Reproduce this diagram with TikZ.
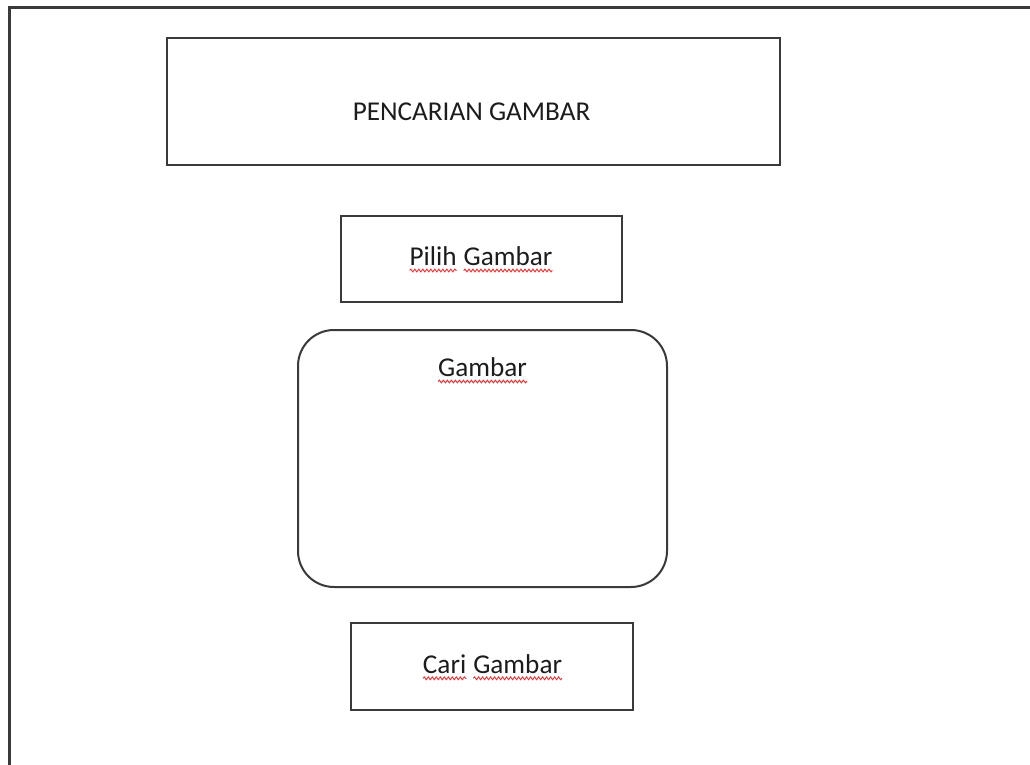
\documentclass[tikz,border=0pt]{standalone}
\usepackage{fontspec}
\setmainfont{Carlito}
\usetikzlibrary{decorations.pathmorphing}
\definecolor{edge}{HTML}{3A3A3A}
\definecolor{ink}{HTML}{1C1C1C}
\definecolor{spell}{HTML}{F03030}
% word with a wavy red underline
\newcommand\wavyword[1]{\tikz[baseline=(ww.base)]{%
  \node[inner sep=0pt,outer sep=0pt,anchor=base] (ww) at (0,0) {#1};
  \draw[spell,line width=0.9pt,decorate,decoration={snake,amplitude=1.4pt,segment length=4pt}]
    ([yshift=-5pt]ww.base west) -- ([yshift=-5pt]ww.base east);}}
\begin{document}
\begin{tikzpicture}[x=1pt,y=-1pt,
  box/.style={draw=edge,line width=2pt,rectangle,inner sep=0pt},
  roundbox/.style={box,rounded corners=36pt},
  txt/.style={text=ink,font=\fontsize{27.2}{32}\selectfont,inner sep=0pt,anchor=base}]
\useasboundingbox (0,0) rectangle (1030,765);
\fill[white] (0,0) rectangle (1030,765);
% page frame (open at right and bottom)
\coordinate (fb) at (9.5,766);
\coordinate (ftl) at (9.5,7.5);
\coordinate (fr) at (1031,7.5);
\draw[edge,line width=2.2pt] (fb) -- (ftl) -- (fr);
% header
\node[box,minimum width=613pt,minimum height=127pt] (head) at (473.5,101.5) {};
\node[txt] (headtxt) at (471.5,120.5) {PENCARIAN GAMBAR};
% select button
\node[box,minimum width=281pt,minimum height=86pt] (pilih) at (481.5,259) {};
\node[txt] (pilihtxt) at (481,265.5) {\wavyword{Pilih} \wavyword{Gambar}};
% image area
\node[roundbox,minimum width=369pt,minimum height=257pt] (img) at (482.5,458.5) {};
\node[txt] (imgtxt) at (482.5,376.5) {\wavyword{Gambar}};
% search button
\node[box,minimum width=282pt,minimum height=87pt] (cari) at (492,666.5) {};
\node[txt] (caritxt) at (492.5,673.3) {\wavyword{Cari} \wavyword{Gambar}};
\end{tikzpicture}
\end{document}
